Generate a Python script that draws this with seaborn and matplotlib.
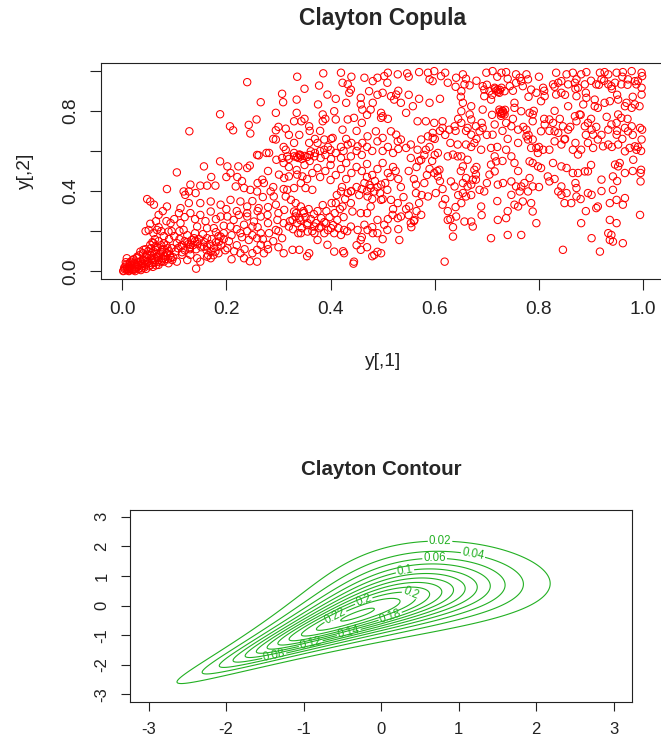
import math
import numpy as np
import matplotlib
matplotlib.use("Agg")
import matplotlib.pyplot as plt
import seaborn as sns

# ---------------- scatter: copula sample ----------------
# (y[,1], y[,2]) pairs, grouped by region of the plot

pts_corner = [
    (0.096, 0.056), (0.086, 0.09), (0.077, 0.107), (0.064, 0.123), (0.054, 0.132),
    (0.057, 0.09), (0.048, 0.082), (0.041, 0.107), (0.035, 0.098), (0.029, 0.073),
    (0.022, 0.06), (0.016, 0.048), (0.009, 0.065), (0.006, 0.023), (0.003, 0.003),
    (0.009, 0.006), (0.016, 0.015), (0.022, 0.006), (0.029, 0.023), (0.035, 0.032),
    (0.041, 0.04), (0.048, 0.048), (0.061, 0.056), (0.07, 0.056), (0.08, 0.048),
    (0.089, 0.04), (0.07, 0.032), (0.054, 0.032), (0.038, 0.015), (0.025, 0.001),
    (0.013, 0.001), (0.002, 0.001), (0.005, 0.01), (0.01, 0.02), (0.012, 0.004),
    (0.018, 0.03), (0.02, 0.012), (0.025, 0.035), (0.027, 0.02), (0.03, 0.045),
    (0.032, 0.012), (0.035, 0.05), (0.038, 0.025), (0.04, 0.06), (0.042, 0.018),
    (0.045, 0.035), (0.047, 0.07), (0.05, 0.05), (0.052, 0.025), (0.055, 0.08),
    (0.058, 0.04), (0.06, 0.1), (0.062, 0.065), (0.065, 0.03), (0.066, 0.085),
    (0.068, 0.12), (0.07, 0.07), (0.072, 0.045), (0.075, 0.095), (0.078, 0.065),
    (0.08, 0.11), (0.082, 0.075), (0.085, 0.13), (0.088, 0.06), (0.09, 0.1),
    (0.092, 0.08), (0.095, 0.115), (0.098, 0.07), (0.015, 0.04), (0.008, 0.035),
    (0.02, 0.055), (0.028, 0.065), (0.033, 0.08), (0.04, 0.09), (0.045, 0.11),
    (0.05, 0.1), (0.055, 0.115), (0.06, 0.14), (0.065, 0.105), (0.07, 0.15),
    (0.058, 0.145), (0.063, 0.16), (0.075, 0.13), (0.08, 0.14), (0.085, 0.09),
    (0.011, 0.012), (0.014, 0.026), (0.019, 0.008), (0.023, 0.042), (0.026, 0.013),
    (0.031, 0.03), (0.036, 0.006), (0.039, 0.036), (0.044, 0.052), (0.046, 0.012),
    (0.051, 0.04), (0.056, 0.062), (0.059, 0.022), (0.063, 0.045), (0.067, 0.07),
    (0.073, 0.088), (0.076, 0.05), (0.083, 0.06), (0.087, 0.115), (0.093, 0.068),
    (0.004, 0.018), (0.007, 0.045),
]

pts_left = [
    (0.24, 0.943), (0.307, 0.885), (0.266, 0.843), (0.309, 0.843), (0.188, 0.783),
    (0.295, 0.79), (0.258, 0.757), (0.207, 0.723), (0.213, 0.703), (0.243, 0.73),
    (0.246, 0.687), (0.129, 0.698), (0.295, 0.703), (0.314, 0.711), (0.295, 0.657),
    (0.262, 0.578), (0.282, 0.59), (0.314, 0.606), (0.296, 0.556), (0.307, 0.565),
    (0.188, 0.548), (0.157, 0.523), (0.105, 0.493), (0.202, 0.523), (0.223, 0.523),
    (0.24, 0.515), (0.245, 0.527), (0.301, 0.482), (0.32, 0.473), (0.2, 0.47),
    (0.171, 0.47), (0.221, 0.47), (0.208, 0.49), (0.269, 0.457), (0.272, 0.44),
    (0.131, 0.432), (0.15, 0.427), (0.163, 0.427), (0.179, 0.427), (0.218, 0.423),
    (0.234, 0.415), (0.118, 0.398), (0.128, 0.398), (0.141, 0.39), (0.121, 0.381),
    (0.086, 0.41), (0.246, 0.406), (0.259, 0.398), (0.285, 0.398), (0.291, 0.373),
    (0.314, 0.373), (0.048, 0.36), (0.054, 0.348), (0.061, 0.332), (0.086, 0.323),
    (0.112, 0.315), (0.128, 0.34), (0.15, 0.34), (0.17, 0.348), (0.189, 0.332),
    (0.208, 0.356), (0.227, 0.348), (0.24, 0.323), (0.262, 0.315), (0.295, 0.332),
    (0.311, 0.306), (0.109, 0.29), (0.131, 0.29), (0.15, 0.281), (0.17, 0.298),
    (0.189, 0.273), (0.202, 0.273), (0.214, 0.256), (0.224, 0.281), (0.24, 0.273),
    (0.253, 0.248), (0.266, 0.273), (0.279, 0.281), (0.298, 0.256), (0.07, 0.281),
    (0.093, 0.24), (0.112, 0.24), (0.054, 0.237), (0.051, 0.206), (0.067, 0.206),
    (0.089, 0.198), (0.118, 0.206), (0.144, 0.223), (0.163, 0.215), (0.176, 0.215),
    (0.195, 0.227), (0.208, 0.223), (0.227, 0.19), (0.234, 0.232), (0.25, 0.223),
    (0.266, 0.19), (0.282, 0.19), (0.295, 0.206), (0.307, 0.165), (0.259, 0.165),
    (0.243, 0.156), (0.266, 0.132), (0.279, 0.132), (0.259, 0.107), (0.272, 0.09),
    (0.227, 0.09), (0.234, 0.065), (0.259, 0.048), (0.202, 0.115), (0.186, 0.148),
    (0.189, 0.173), (0.163, 0.165), (0.144, 0.148), (0.131, 0.132), (0.112, 0.123),
    (0.102, 0.098), (0.115, 0.082), (0.131, 0.082), (0.144, 0.065), (0.15, 0.048),
    (0.142, 0.013), (0.163, 0.073), (0.17, 0.098), (0.179, 0.098), (0.183, 0.123),
    (0.125, 0.056), (0.105, 0.048), (0.157, 0.123), (0.163, 0.123),
    (0.105, 0.14), (0.11, 0.16), (0.115, 0.13), (0.12, 0.105), (0.125, 0.145),
    (0.13, 0.12), (0.133, 0.155), (0.136, 0.13), (0.14, 0.15), (0.142, 0.11),
    (0.145, 0.135), (0.148, 0.16), (0.152, 0.12), (0.158, 0.145), (0.162, 0.105),
    (0.168, 0.135), (0.172, 0.16), (0.176, 0.115), (0.18, 0.145), (0.185, 0.175),
    (0.19, 0.13), (0.195, 0.16), (0.198, 0.105), (0.175, 0.08), (0.17, 0.065),
    (0.18, 0.195), (0.155, 0.185), (0.14, 0.19), (0.125, 0.18), (0.11, 0.2),
    (0.1, 0.175), (0.095, 0.2), (0.09, 0.16), (0.08, 0.175), (0.075, 0.2),
    (0.07, 0.22), (0.085, 0.25), (0.1, 0.26), (0.12, 0.27), (0.14, 0.26),
    (0.16, 0.25), (0.18, 0.26), (0.21, 0.18), (0.22, 0.21), (0.23, 0.17),
    (0.24, 0.2), (0.25, 0.18), (0.26, 0.22), (0.27, 0.16), (0.28, 0.24),
    (0.29, 0.15), (0.3, 0.2), (0.31, 0.24), (0.22, 0.13), (0.235, 0.11),
    (0.25, 0.09), (0.28, 0.11), (0.3, 0.12), (0.31, 0.09), (0.245, 0.05),
    (0.21, 0.06), (0.22, 0.3), (0.24, 0.29), (0.26, 0.3), (0.28, 0.32),
    (0.3, 0.29), (0.2, 0.31), (0.25, 0.35), (0.27, 0.37), (0.29, 0.42),
    (0.31, 0.41), (0.26, 0.44), (0.23, 0.45), (0.28, 0.5), (0.259, 0.58),
    (0.277, 0.59), (0.29, 0.66), (0.3, 0.72), (0.12, 0.15), (0.127, 0.135),
    (0.138, 0.165), (0.13, 0.11), (0.115, 0.095), (0.107, 0.115), (0.165, 0.08),
    (0.185, 0.09), (0.195, 0.19), (0.205, 0.15), (0.215, 0.1), (0.06, 0.19),
    (0.065, 0.25), (0.045, 0.2), (0.078, 0.3),
]

pts_mid = [
    (0.336, 0.97), (0.386, 0.987), (0.42, 0.99), (0.423, 0.94), (0.433, 0.932),
    (0.439, 0.906), (0.436, 0.89), (0.465, 0.965), (0.481, 0.948), (0.49, 0.965),
    (0.503, 0.973), (0.509, 0.94), (0.529, 0.982), (0.547, 0.987), (0.57, 0.993),
    (0.587, 0.99), (0.599, 0.998), (0.59, 0.957), (0.596, 0.948), (0.612, 0.973),
    (0.625, 0.94), (0.641, 0.965), (0.654, 0.982), (0.335, 0.856),
    (0.35, 0.91), (0.378, 0.926), (0.394, 0.881), (0.458, 0.865), (0.474, 0.898),
    (0.5, 0.89), (0.516, 0.873), (0.526, 0.881), (0.522, 0.856), (0.535, 0.84),
    (0.558, 0.823), (0.545, 0.79), (0.5, 0.773), (0.497, 0.79), (0.497, 0.765),
    (0.477, 0.806), (0.481, 0.84), (0.458, 0.832), (0.461, 0.806), (0.445, 0.765),
    (0.433, 0.757), (0.423, 0.706), (0.407, 0.798), (0.41, 0.757), (0.385, 0.782),
    (0.385, 0.748), (0.376, 0.832), (0.335, 0.79), (0.33, 0.748), (0.344, 0.748),
    (0.359, 0.723), (0.401, 0.66), (0.404, 0.665), (0.388, 0.657),
    (0.375, 0.64), (0.359, 0.64), (0.362, 0.598), (0.34, 0.582), (0.343, 0.573),
    (0.33, 0.573), (0.317, 0.573), (0.369, 0.573), (0.381, 0.565),
    (0.388, 0.606), (0.401, 0.56), (0.42, 0.565), (0.433, 0.632), (0.439, 0.573),
    (0.452, 0.623), (0.461, 0.64), (0.471, 0.673), (0.487, 0.698), (0.49, 0.648),
    (0.5, 0.665), (0.516, 0.698), (0.526, 0.681), (0.529, 0.648), (0.535, 0.657),
    (0.545, 0.615), (0.554, 0.632), (0.567, 0.606), (0.574, 0.657), (0.587, 0.673),
    (0.596, 0.665), (0.599, 0.74), (0.615, 0.748), (0.615, 0.715), (0.567, 0.748),
    (0.583, 0.748), (0.596, 0.69), (0.628, 0.706), (0.638, 0.723), (0.651, 0.74),
    (0.66, 0.632), (0.644, 0.632), (0.635, 0.582), (0.644, 0.573), (0.625, 0.573),
    (0.663, 0.556), (0.583, 0.606), (0.606, 0.59), (0.574, 0.556), (0.554, 0.565),
    (0.311, 0.465), (0.336, 0.482), (0.346, 0.473), (0.343, 0.44),
    (0.352, 0.415), (0.365, 0.406), (0.33, 0.415), (0.317, 0.406),
    (0.324, 0.356), (0.333, 0.34), (0.343, 0.323), (0.33, 0.298),
    (0.333, 0.273), (0.34, 0.265), (0.349, 0.29), (0.356, 0.24), (0.336, 0.24),
    (0.327, 0.256), (0.32, 0.223), (0.369, 0.223), (0.381, 0.223), (0.391, 0.24),
    (0.401, 0.215), (0.407, 0.19), (0.388, 0.19), (0.369, 0.19), (0.356, 0.198),
    (0.343, 0.19), (0.375, 0.156), (0.394, 0.132), (0.407, 0.098), (0.426, 0.09),
    (0.458, 0.107), (0.484, 0.082), (0.497, 0.09), (0.445, 0.048), (0.359, 0.09),
    (0.327, 0.107), (0.34, 0.107), (0.413, 0.256), (0.41, 0.34),
    (0.42, 0.398), (0.433, 0.39), (0.439, 0.398), (0.423, 0.323), (0.439, 0.34),
    (0.442, 0.298), (0.458, 0.29), (0.477, 0.415), (0.484, 0.398), (0.497, 0.432),
    (0.509, 0.406), (0.516, 0.356), (0.529, 0.34), (0.497, 0.356), (0.471, 0.373),
    (0.477, 0.323), (0.49, 0.256), (0.503, 0.232), (0.481, 0.19), (0.465, 0.232),
    (0.471, 0.206), (0.452, 0.206), (0.439, 0.223), (0.426, 0.206), (0.42, 0.181),
    (0.458, 0.156), (0.509, 0.206), (0.532, 0.156), (0.535, 0.273), (0.519, 0.281),
    (0.529, 0.265), (0.551, 0.323), (0.554, 0.24), (0.561, 0.256), (0.574, 0.281),
    (0.564, 0.432), (0.564, 0.39), (0.587, 0.373), (0.602, 0.39), (0.606, 0.473),
    (0.599, 0.49), (0.609, 0.506), (0.631, 0.448), (0.638, 0.423), (0.654, 0.44),
    (0.66, 0.465), (0.654, 0.39), (0.66, 0.373), (0.615, 0.332), (0.625, 0.256),
    (0.635, 0.173), (0.641, 0.273), (0.657, 0.248), (0.619, 0.048),
    (0.322, 0.25), (0.328, 0.21), (0.334, 0.29), (0.338, 0.19), (0.342, 0.255),
    (0.345, 0.215), (0.348, 0.3), (0.352, 0.27), (0.355, 0.23), (0.358, 0.31),
    (0.362, 0.26), (0.365, 0.2), (0.368, 0.285), (0.372, 0.24), (0.375, 0.3),
    (0.378, 0.215), (0.382, 0.265), (0.385, 0.33), (0.388, 0.245), (0.392, 0.3),
    (0.395, 0.205), (0.398, 0.27), (0.402, 0.34), (0.405, 0.23), (0.408, 0.29),
    (0.412, 0.38), (0.415, 0.215), (0.418, 0.31), (0.422, 0.42), (0.425, 0.27),
    (0.428, 0.36), (0.432, 0.2), (0.335, 0.57), (0.338, 0.565), (0.342, 0.58),
    (0.345, 0.56), (0.35, 0.575), (0.355, 0.57), (0.36, 0.58), (0.36, 0.55),
    (0.37, 0.59), (0.33, 0.59), (0.32, 0.56), (0.31, 0.54), (0.38, 0.6),
    (0.395, 0.62), (0.39, 0.58), (0.4, 0.605), (0.41, 0.59), (0.42, 0.62),
    (0.425, 0.6), (0.43, 0.66), (0.44, 0.64), (0.45, 0.6), (0.46, 0.58),
    (0.47, 0.62), (0.48, 0.6), (0.5, 0.6), (0.51, 0.62), (0.52, 0.59),
    (0.53, 0.61), (0.44, 0.4), (0.45, 0.42), (0.455, 0.38), (0.46, 0.41),
    (0.465, 0.44), (0.47, 0.4), (0.475, 0.43), (0.48, 0.36), (0.485, 0.45),
    (0.49, 0.42), (0.495, 0.39), (0.5, 0.36), (0.505, 0.44), (0.51, 0.49),
    (0.515, 0.47), (0.52, 0.52), (0.525, 0.5), (0.53, 0.46), (0.535, 0.42),
    (0.54, 0.37), (0.545, 0.31), (0.55, 0.28), (0.555, 0.22), (0.56, 0.25),
    (0.565, 0.3), (0.57, 0.34), (0.575, 0.38), (0.58, 0.44), (0.585, 0.48),
    (0.59, 0.51), (0.595, 0.55), (0.6, 0.58), (0.605, 0.5), (0.61, 0.45),
    (0.615, 0.41), (0.62, 0.36), (0.625, 0.3), (0.63, 0.26), (0.635, 0.22),
    (0.64, 0.32), (0.645, 0.38), (0.65, 0.5), (0.55, 0.5), (0.56, 0.46),
    (0.565, 0.52), (0.57, 0.55), (0.58, 0.58), (0.59, 0.62), (0.6, 0.66),
    (0.61, 0.7), (0.62, 0.68), (0.63, 0.64), (0.64, 0.7), (0.645, 0.76),
    (0.61, 0.86), (0.59, 0.84), (0.57, 0.86), (0.55, 0.88), (0.53, 0.9),
    (0.51, 0.76), (0.49, 0.88), (0.47, 0.78), (0.46, 0.74), (0.45, 0.7),
    (0.43, 0.84), (0.41, 0.86), (0.39, 0.76), (0.38, 0.7), (0.37, 0.66),
    (0.36, 0.7), (0.35, 0.76), (0.34, 0.68), (0.33, 0.64), (0.32, 0.68),
    (0.31, 0.62), (0.51, 0.99), (0.55, 0.97), (0.62, 0.99), (0.64, 0.92),
    (0.65, 0.87), (0.44, 0.97), (0.47, 0.29),
    (0.48, 0.22), (0.49, 0.19), (0.5, 0.16), (0.51, 0.26), (0.52, 0.31),
    (0.53, 0.21), (0.46, 0.17), (0.45, 0.13), (0.47, 0.12), (0.444, 0.038),
    (0.48, 0.075), (0.49, 0.097), (0.355, 0.075), (0.424, 0.1),
    (0.32, 0.52), (0.335, 0.505), (0.35, 0.53), (0.365, 0.49), (0.375, 0.515),
    (0.39, 0.5), (0.4, 0.53), (0.41, 0.48), (0.42, 0.51), (0.43, 0.54),
    (0.44, 0.49), (0.45, 0.52), (0.46, 0.5), (0.47, 0.535), (0.48, 0.48),
    (0.49, 0.51), (0.5, 0.54), (0.38, 0.47), (0.355, 0.46), (0.4, 0.455),
    (0.43, 0.46), (0.47, 0.47),
]

pts_right = [
    (0.699, 0.99), (0.711, 0.998), (0.728, 0.99), (0.737, 0.993),
    (0.756, 0.982), (0.776, 0.982), (0.763, 0.965), (0.779, 0.957), (0.833, 0.99),
    (0.853, 0.982), (0.865, 0.99), (0.881, 0.982), (0.891, 0.993), (0.917, 0.99),
    (0.926, 0.993), (0.933, 0.982), (0.949, 0.99), (0.961, 0.993), (0.978, 0.998),
    (0.997, 0.99), (0.998, 0.973),
    (0.657, 0.932), (0.667, 0.927), (0.692, 0.923), (0.695, 0.906), (0.705, 0.898),
    (0.715, 0.915), (0.721, 0.906), (0.724, 0.89), (0.728, 0.915), (0.734, 0.898),
    (0.744, 0.923), (0.756, 0.94), (0.766, 0.948), (0.769, 0.923), (0.785, 0.906),
    (0.795, 0.89), (0.808, 0.915), (0.827, 0.932), (0.837, 0.94), (0.843, 0.948),
    (0.856, 0.932), (0.869, 0.94), (0.872, 0.957), (0.888, 0.932), (0.875, 0.915),
    (0.91, 0.932), (0.92, 0.957), (0.933, 0.932), (0.939, 0.923), (0.946, 0.94),
    (0.958, 0.932), (0.971, 0.957), (0.984, 0.948), (0.987, 0.932), (0.997, 0.915),
    (0.997, 0.881),
    (0.651, 0.898), (0.654, 0.84), (0.67, 0.823), (0.695, 0.873), (0.692, 0.806),
    (0.708, 0.856), (0.724, 0.806), (0.728, 0.79), (0.731, 0.798), (0.734, 0.782),
    (0.753, 0.84), (0.753, 0.815), (0.766, 0.798), (0.782, 0.79), (0.788, 0.782),
    (0.804, 0.848), (0.811, 0.873), (0.833, 0.881), (0.843, 0.89), (0.856, 0.823),
    (0.872, 0.873), (0.885, 0.832), (0.891, 0.865), (0.907, 0.856), (0.907, 0.823),
    (0.913, 0.815), (0.926, 0.84), (0.936, 0.848), (0.952, 0.856), (0.965, 0.823),
    (0.968, 0.84), (0.978, 0.815), (0.984, 0.832), (0.993, 0.823),
    (0.651, 0.798), (0.667, 0.782), (0.67, 0.757), (0.679, 0.723),
    (0.663, 0.715), (0.67, 0.681), (0.686, 0.698), (0.692, 0.715), (0.715, 0.732),
    (0.711, 0.681), (0.737, 0.74), (0.747, 0.723), (0.76, 0.706), (0.776, 0.706),
    (0.776, 0.673), (0.788, 0.748), (0.804, 0.698), (0.811, 0.732), (0.82, 0.757),
    (0.827, 0.74), (0.83, 0.698), (0.837, 0.69), (0.846, 0.723), (0.856, 0.706),
    (0.869, 0.773), (0.878, 0.782), (0.872, 0.748), (0.888, 0.723), (0.894, 0.74),
    (0.901, 0.706), (0.904, 0.681), (0.913, 0.657), (0.933, 0.706), (0.939, 0.732),
    (0.952, 0.782), (0.958, 0.765), (0.949, 0.74), (0.965, 0.715), (0.971, 0.698),
    (0.978, 0.723), (0.994, 0.715), (0.998, 0.706), (0.949, 0.681),
    (0.676, 0.64), (0.689, 0.606), (0.708, 0.615), (0.715, 0.573), (0.718, 0.548),
    (0.708, 0.532), (0.737, 0.606), (0.747, 0.573), (0.753, 0.54), (0.779, 0.657),
    (0.788, 0.657), (0.795, 0.615), (0.808, 0.606), (0.785, 0.615), (0.798, 0.59),
    (0.82, 0.606), (0.83, 0.648), (0.843, 0.632), (0.849, 0.657), (0.865, 0.606),
    (0.875, 0.582), (0.881, 0.606), (0.894, 0.64), (0.904, 0.615), (0.923, 0.623),
    (0.933, 0.632), (0.952, 0.632), (0.965, 0.598), (0.974, 0.615), (0.984, 0.623),
    (0.987, 0.606), (0.997, 0.657), (0.996, 0.6), (0.981, 0.556),
    (0.651, 0.573), (0.654, 0.523), (0.676, 0.506), (0.679, 0.482),
    (0.673, 0.457), (0.663, 0.423), (0.651, 0.34), (0.67, 0.432), (0.679, 0.457),
    (0.686, 0.406), (0.695, 0.398), (0.705, 0.482), (0.715, 0.498), (0.721, 0.432),
    (0.731, 0.44), (0.747, 0.448), (0.756, 0.423), (0.766, 0.423), (0.763, 0.398),
    (0.772, 0.44), (0.779, 0.398), (0.782, 0.465), (0.788, 0.423), (0.798, 0.523),
    (0.804, 0.515), (0.782, 0.548), (0.788, 0.54), (0.817, 0.473), (0.82, 0.448),
    (0.827, 0.54), (0.843, 0.523), (0.853, 0.515), (0.865, 0.49), (0.875, 0.49),
    (0.888, 0.498), (0.894, 0.498), (0.843, 0.423), (0.837, 0.398), (0.843, 0.381),
    (0.853, 0.39), (0.872, 0.415), (0.872, 0.373), (0.862, 0.34), (0.849, 0.34),
    (0.894, 0.39), (0.901, 0.381), (0.91, 0.315), (0.913, 0.323), (0.92, 0.457),
    (0.942, 0.473), (0.946, 0.532), (0.952, 0.523), (0.955, 0.54), (0.965, 0.49),
    (0.996, 0.506), (0.995, 0.49), (0.995, 0.448), (0.942, 0.406), (0.949, 0.356),
    (0.961, 0.332), (0.965, 0.365), (0.936, 0.34),
    (0.689, 0.323), (0.67, 0.248), (0.673, 0.223), (0.721, 0.256), (0.737, 0.265),
    (0.747, 0.381), (0.753, 0.332), (0.76, 0.323), (0.769, 0.348), (0.785, 0.34),
    (0.788, 0.298), (0.795, 0.24), (0.74, 0.181), (0.708, 0.165), (0.766, 0.181),
    (0.846, 0.107), (0.881, 0.24), (0.901, 0.165), (0.917, 0.098), (0.933, 0.19),
    (0.939, 0.181), (0.936, 0.156), (0.942, 0.148), (0.961, 0.14), (0.994, 0.281),
    (0.936, 0.256), (0.949, 0.24),
    (0.725, 0.795), (0.728, 0.785), (0.73, 0.8), (0.732, 0.79), (0.727, 0.775),
    (0.735, 0.805), (0.718, 0.9), (0.722, 0.895), (0.716, 0.91), (0.725, 0.905),
    (0.66, 0.96), (0.68, 0.95), (0.7, 0.93), (0.71, 0.88), (0.72, 0.97),
    (0.74, 0.96), (0.75, 0.9), (0.78, 0.87), (0.8, 0.97), (0.81, 0.9),
    (0.83, 0.92), (0.85, 0.88), (0.87, 0.91), (0.89, 0.89), (0.9, 0.95),
    (0.915, 0.93), (0.925, 0.95), (0.94, 0.91), (0.95, 0.88), (0.96, 0.97),
    (0.97, 0.93), (0.98, 0.87), (0.99, 0.95),
    (0.66, 0.7), (0.67, 0.62), (0.68, 0.66), (0.69, 0.74), (0.7, 0.68),
    (0.71, 0.78), (0.72, 0.62), (0.73, 0.7), (0.74, 0.66), (0.75, 0.76),
    (0.76, 0.64), (0.77, 0.72), (0.78, 0.68), (0.79, 0.8), (0.8, 0.62),
    (0.81, 0.76), (0.82, 0.7), (0.83, 0.8), (0.84, 0.76), (0.85, 0.66),
    (0.86, 0.72), (0.87, 0.64), (0.88, 0.78), (0.89, 0.68), (0.9, 0.76),
    (0.91, 0.72), (0.92, 0.68), (0.93, 0.77), (0.94, 0.62), (0.95, 0.7),
    (0.96, 0.66), (0.97, 0.76), (0.98, 0.68), (0.99, 0.62),
    (0.67, 0.38), (0.69, 0.28), (0.7, 0.44), (0.72, 0.35), (0.74, 0.3),
    (0.76, 0.5), (0.8, 0.42), (0.83, 0.46), (0.87, 0.44), (0.89, 0.3),
    (0.9, 0.53), (0.92, 0.4), (0.95, 0.45), (0.98, 0.5), (0.88, 0.36),
    (0.68, 0.52), (0.73, 0.55),
]

# ---------------- contour: Clayton copula with N(0,1) margins ----------------
theta = 2.0
contour_levels = [0.02, 0.04, 0.06, 0.08, 0.10, 0.12, 0.14, 0.16, 0.18, 0.20, 0.22, 0.24]
label_spots = [(0.76, 2.16), (1.18, 1.65), (0.69, 1.56), (0.31, 1.12), (0.39, 0.47),
               (-0.22, 0.12), (-0.6, -0.33), (0.12, -0.39), (-0.42, -0.89),
               (-0.91, -1.27), (-1.38, -1.68)]

grid = np.linspace(-3, 3, 301)
gx, gy = np.meshgrid(grid, grid)
norm_cdf = np.vectorize(lambda t: 0.5 * (1.0 + math.erf(t / math.sqrt(2.0))))
cu, cv = norm_cdf(gx), norm_cdf(gy)
cop = (1 + theta) * (cu * cv) ** (-theta - 1) * (cu ** -theta + cv ** -theta - 1) ** (-2 - 1 / theta)
dens = cop * np.exp(-(gx ** 2 + gy ** 2) / 2) / (2 * np.pi)

# ---------------- figure ----------------
sns.set_style("white")
plt.rcParams["font.family"] = ["Liberation Sans", "DejaVu Sans"]
plt.rcParams["axes.unicode_minus"] = False

W, H = 661, 745
fig = plt.figure(figsize=(W / 100, H / 100), dpi=100)

ax1 = fig.add_axes([101.3 / W, 465.7 / H, 562.7 / W, 216.6 / H])
pts = pts_corner + pts_left + pts_mid + pts_right
u = [p[0] for p in pts]
v = [p[1] for p in pts]
sns.scatterplot(x=u, y=v, ax=ax1, marker="o", s=28, facecolor="none",
                edgecolor="red", linewidth=0.75)
ax1.set_xlim(-0.04, 1.04)
ax1.set_ylim(-0.04, 1.04)
ticks = [0.0, 0.2, 0.4, 0.6, 0.8, 1.0]
ax1.set_xticks(ticks)
ax1.set_xticklabels(["0.0", "0.2", "0.4", "0.6", "0.8", "1.0"])
ax1.set_yticks(ticks)
ax1.set_yticklabels(["0.0", "", "0.4", "", "0.8", ""], rotation=90, va="center")
ax1.tick_params(direction="out", length=7.7, width=0.8, labelsize=13.8, pad=8,
                colors="#222222", left=True, bottom=True)
ax1.set_xlabel("y[,1]", fontsize=13.8, color="#222222")
ax1.set_ylabel("y[,2]", fontsize=13.8, color="#222222")
ax1.xaxis.set_label_coords(0.5, -0.38)
ax1.yaxis.set_label_coords(-0.135, 0.5)
ax1.xaxis.label.set_va("center")
ax1.yaxis.label.set_va("center")
ax1.set_title("Clayton Copula", fontsize=16.5, fontweight="bold", y=1.205, va="center", pad=0)

ax2 = fig.add_axes([130 / W, 43.5 / H, 502.3 / W, 191.8 / H])
cs = ax2.contour(gx, gy, dens, levels=contour_levels, colors="#22b022", linewidths=0.8)
ax2.clabel(cs, fmt="%g", fontsize=8.3, inline=True, inline_spacing=2, manual=label_spots)
ax2.set_xlim(-3.24, 3.24)
ax2.set_ylim(-3.24, 3.24)
axis_ticks = [-3, -2, -1, 0, 1, 2, 3]
ax2.set_xticks(axis_ticks)
ax2.set_xticklabels([str(t) for t in axis_ticks])
ax2.set_yticks(axis_ticks)
ax2.set_yticklabels([str(t) for t in axis_ticks], rotation=90, va="center")
ax2.tick_params(direction="out", length=6.7, width=0.8, labelsize=12, pad=8,
                colors="#222222", left=True, bottom=True)
ax2.set_title("Clayton Contour", fontsize=14.8, fontweight="bold", y=1.21, va="center", pad=0)

for ax in (ax1, ax2):
    for sp in ax.spines.values():
        sp.set_visible(True)
        sp.set_color("#222222")
        sp.set_linewidth(0.8)

fig.savefig("out.png", dpi=100)
